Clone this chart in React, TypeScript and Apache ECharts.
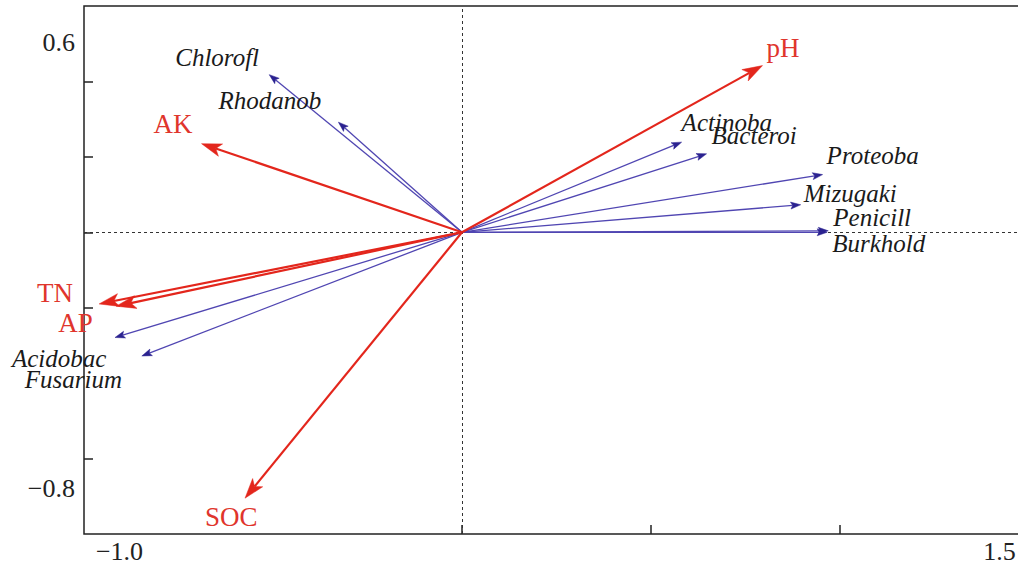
import React, { useEffect, useRef } from "react";
import * as echarts from "echarts";

// ---- data ----
const speciesNames = ["Chlorofl", "Rhodanob", "Actinoba", "Bacteroi", "Proteoba", "Mizugaki", "Penicill", "Burkhold", "Acidobac", "Fusarium"];
const speciesX = [-0.51, -0.327, 0.581, 0.647, 0.954, 0.896, 0.969, 0.966, -0.918, -0.847];
const speciesY = [0.418, 0.292, 0.239, 0.208, 0.153, 0.073, 0.004, 0.0, -0.279, -0.328];

const envNames = ["pH", "AK", "TN", "AP", "SOC"];
const envX = [0.795, -0.689, -0.96, -0.915, -0.574];
const envY = [0.442, 0.235, -0.19, -0.196, -0.705];

const xTickValues = [0, 0.5, 1.0];
const yTickValues = [0.4, 0.2, 0, -0.2, -0.6];
const xLabelValues = [-1.0, 1.5];
const yLabelValues = [-0.8, 0.6];

// ---- styling (label offsets in px from arrow tip) ----
const speciesLabelOffset: Record<string, [number, number]> = {
  Chlorofl: [-94, -17],
  Rhodanob: [-120, -22],
  Actinoba: [0, -20],
  Bacteroi: [5, -18],
  Proteoba: [4, -19],
  Mizugaki: [3, -11],
  Penicill: [5, -13],
  Burkhold: [5, 11],
  Acidobac: [-103, 21],
  Fusarium: [-117, 24],
};
const envLabelOffset: Record<string, [number, number]> = {
  pH: [4, -18],
  AK: [-48, -20],
  TN: [-62, -11],
  AP: [-58, 17],
  SOC: [-40, 19],
};

const SERIF = "'Liberation Serif', 'Times New Roman', serif";
const RED = "#e3261c";
const BLUE_LINE = "#5046b2";
const BLUE_HEAD = "#2b2290";

const fmt = (v: number) => (v < 0 ? "\u2212" : "") + Math.abs(v).toFixed(1);

function makeRenderItem(
  names: string[],
  offsets: Record<string, [number, number]>,
  opts: { lineColor: string; headColor: string; width: number; len: number; hw: number; notch: number; textColor: string; fontSize: number; italic: boolean }
) {
  return (params: any, api: any) => {
    const x = api.value(0);
    const y = api.value(1);
    const o = api.coord([0, 0]);
    const p = api.coord([x, y]);
    const dx = p[0] - o[0];
    const dy = p[1] - o[1];
    const L = Math.hypot(dx, dy) || 1;
    const ux = dx / L;
    const uy = dy / L;
    const nx = -uy;
    const ny = ux;
    const bx = p[0] - ux * opts.len;
    const by = p[1] - uy * opts.len;
    const mx = p[0] - ux * opts.len * opts.notch;
    const my = p[1] - uy * opts.len * opts.notch;
    const name = names[params.dataIndex];
    const off = offsets[name] || [4, -12];
    return {
      type: "group",
      children: [
        {
          type: "line",
          shape: { x1: o[0], y1: o[1], x2: mx, y2: my },
          style: { stroke: opts.lineColor, lineWidth: opts.width },
        },
        {
          type: "polygon",
          shape: {
            points: [
              [p[0], p[1]],
              [bx + nx * opts.hw, by + ny * opts.hw],
              [mx, my],
              [bx - nx * opts.hw, by - ny * opts.hw],
            ],
          },
          style: { fill: opts.headColor, stroke: opts.headColor, lineWidth: 0.5 },
        },
        {
          type: "text",
          x: p[0] + off[0],
          y: p[1] + off[1],
          style: {
            text: name,
            fill: opts.textColor,
            fontSize: opts.fontSize,
            fontFamily: SERIF,
            fontStyle: opts.italic ? "italic" : "normal",
            align: "left",
            verticalAlign: "middle",
          },
        },
      ],
    };
  };
}

export default function App() {
  const ref = useRef<HTMLDivElement>(null);
  useEffect(() => {
    if (!ref.current) return;
    const chart = echarts.init(ref.current, null, { renderer: "svg" });
    const option: any = {
      animation: false,
      backgroundColor: "#ffffff",
      grid: {
        show: true,
        left: 84,
        top: 6,
        width: 945,
        height: 528,
        outerBoundsMode: "none",
        containLabel: false,
        borderColor: "#222",
        borderWidth: 1.5,
        backgroundColor: "transparent",
      },
      xAxis: {
        type: "value",
        min: -1.0,
        max: 1.5,
        interval: 0.5,
        splitLine: { show: false },
        axisLine: { show: false, onZero: false },
        axisTick: {
          show: true,
          inside: true,
          length: 9,
          customValues: xTickValues,
          lineStyle: { color: "#222", width: 1.5 },
        },
        axisLabel: {
          customValues: xLabelValues,
          margin: 4,
          formatter: (v: number) => (v < 0 ? `{l|${fmt(v)}}` : `{r|${fmt(v)}}`),
          rich: {
            l: { padding: [0, 0, 0, 71], fontSize: 26, fontFamily: SERIF, color: "#222" },
            r: { padding: [0, 59, 0, 0], fontSize: 26, fontFamily: SERIF, color: "#222" },
          },
        },
      },
      yAxis: {
        type: "value",
        min: -0.8,
        max: 0.6,
        interval: 0.2,
        splitLine: { show: false },
        axisLine: { show: false, onZero: false },
        axisTick: {
          show: true,
          inside: true,
          length: 9,
          customValues: yTickValues,
          lineStyle: { color: "#222", width: 1.5 },
        },
        axisLabel: {
          customValues: yLabelValues,
          margin: 9,
          formatter: (v: number) => (v > 0 ? `{t|${fmt(v)}}` : `{b|${fmt(v)}}`),
          rich: {
            t: { padding: [72, 0, 0, 0], fontSize: 26, fontFamily: SERIF, color: "#222" },
            b: { padding: [0, 0, 92, 0], fontSize: 26, fontFamily: SERIF, color: "#222" },
          },
        },
      },
      series: [
        {
          type: "custom",
          name: "species",
          clip: false,
          z: 3,
          data: speciesX.map((x, i) => [x, speciesY[i]]),
          renderItem: makeRenderItem(speciesNames, speciesLabelOffset, {
            lineColor: BLUE_LINE,
            headColor: BLUE_HEAD,
            width: 1.3,
            len: 10,
            hw: 3.5,
            notch: 0.8,
            textColor: "#1a1a1a",
            fontSize: 25,
            italic: true,
          }),
          markLine: {
            silent: true,
            symbol: "none",
            label: { show: false },
            lineStyle: { color: "#333", type: [3, 3], width: 1 },
            data: [{ xAxis: 0 }, { yAxis: 0 }],
            z: 1,
          },
        },
        {
          type: "custom",
          name: "environment",
          clip: false,
          z: 4,
          data: envX.map((x, i) => [x, envY[i]]),
          renderItem: makeRenderItem(envNames, envLabelOffset, {
            lineColor: RED,
            headColor: RED,
            width: 2.2,
            len: 20,
            hw: 6.5,
            notch: 0.75,
            textColor: "#e0352c",
            fontSize: 27,
            italic: false,
          }),
        },
      ],
    };
    chart.setOption(option);
    return () => chart.dispose();
  }, []);
  return (
    <div
      style={{ position: "absolute", left: 0, top: 0, width: 1018, height: 567, overflow: "hidden", background: "#fff" }}
    >
      <div ref={ref} style={{ position: "absolute", left: 0, top: 0, width: 1040, height: 567 }} />
    </div>
  );
}
